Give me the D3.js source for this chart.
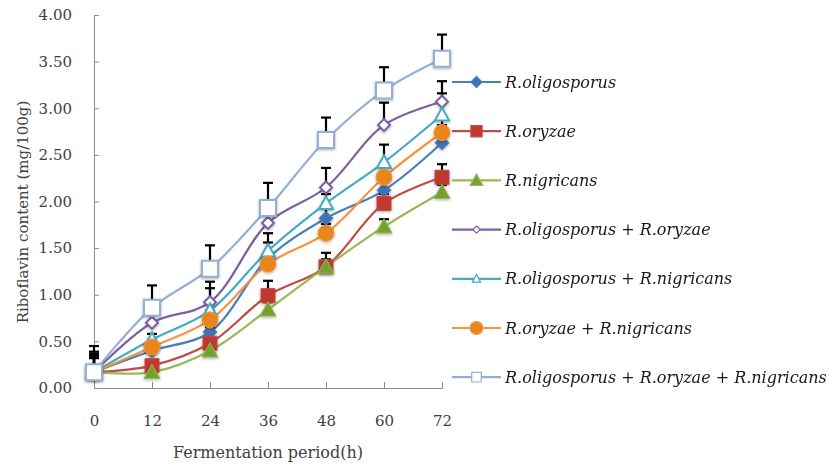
<!DOCTYPE html>
<meta charset="utf-8">
<style>
body { margin: 0; background: #fff; }
.tick text { font-family: "DejaVu Serif", serif; fill: #404040; }
.domain, .tick line { stroke: #8c8c8c; }
</style>
<svg width="834" height="468"></svg>
<script src="https://cdn.jsdelivr.net/npm/d3@7"></script>
<script>

var hours = [0, 12, 24, 36, 48, 60, 72];
var yTicks = ["0.00", "0.50", "1.00", "1.50", "2.00", "2.50", "3.00", "3.50", "4.00"];

// mean values per series
var oligo       = [0.17, 0.40, 0.60, 1.39, 1.82, 2.12, 2.63];
var oryzae      = [0.17, 0.24, 0.48, 0.99, 1.30, 1.98, 2.26];
var nigricans   = [0.17, 0.17, 0.40, 0.84, 1.30, 1.73, 2.10];
var oligoOryzae = [0.17, 0.70, 0.92, 1.77, 2.15, 2.82, 3.07];
var oligoNig    = [0.17, 0.52, 0.83, 1.47, 1.98, 2.42, 2.93];
var oryzaeNig   = [0.17, 0.44, 0.73, 1.33, 1.66, 2.26, 2.74];
var allThree    = [0.17, 0.86, 1.28, 1.93, 2.66, 3.19, 3.53];

// upper error (SD)
var errOligo       = [0.18, 0.05, 0.05, 0.17, 0.10, 0.10, 0.19];
var errOryzae      = [0.16, 0.05, 0.11, 0.16, 0.15, 0.10, 0.14];
var errNigricans   = [0.15, 0.04, 0.06, 0.08, 0.08, 0.08, 0.08];
var errOligoOryzae = [0.22, 0.08, 0.22, 0.12, 0.21, 0.24, 0.22];
var errOligoNig    = [0.20, 0.06, 0.24, 0.19, 0.10, 0.19, 0.23];
var errOryzaeNig   = [0.19, 0.06, 0.10, 0.10, 0.10, 0.10, 0.17];
var errAllThree    = [0.28, 0.24, 0.25, 0.27, 0.24, 0.25, 0.26];

var names = ["R.oligosporus", "R.oryzae", "R.nigricans",
  "R.oligosporus + R.oryzae", "R.oligosporus + R.nigricans",
  "R.oryzae + R.nigricans", "R.oligosporus + R.oryzae + R.nigricans"];

var series = [
  {name: names[0], values: oligo, err: errOligo, color: "#4a7ebb", fill: "#3f72b5", shape: "diamond", size: 7},
  {name: names[1], values: oryzae, err: errOryzae, color: "#be4b48", fill: "#c0392f", shape: "square", size: 7},
  {name: names[2], values: nigricans, err: errNigricans, color: "#98b954", fill: "#77a033", shape: "triangle", size: 8},
  {name: names[3], values: oligoOryzae, err: errOligoOryzae, color: "#7d60a0", fill: "#fff", shape: "diamond", size: 6},
  {name: names[4], values: oligoNig, err: errOligoNig, color: "#46aac5", fill: "#fff", shape: "triangle", size: 7},
  {name: names[5], values: oryzaeNig, err: errOryzaeNig, color: "#f69240", fill: "#e8861c", shape: "circle", size: 8},
  {name: names[6], values: allThree, err: errAllThree, color: "#93afd8", fill: "#fff", shape: "square", size: 8}
];

var svg = d3.select("svg");

var x = d3.scaleLinear().domain([0, 72]).range([94, 442]);
var y = d3.scaleLinear().domain([0, 4]).range([388, 15]);

var defs = svg.append("defs");
var glow = defs.append("filter").attr("id", "shadow").attr("x", "-50%").attr("y", "-50%").attr("width", "200%").attr("height", "200%");
glow.append("feDropShadow").attr("dx", 0).attr("dy", 1).attr("stdDeviation", 1.5).attr("flood-color", "#000").attr("flood-opacity", 0.35);

// axes
svg.append("g")
    .attr("transform", "translate(0,388)")
    .call(d3.axisBottom(x).tickValues(hours).tickSize(-6).tickPadding(27).tickFormat(d3.format("d")))
    .call(function(g) { g.selectAll("text").style("font-size", "15px"); });

svg.append("g")
    .attr("transform", "translate(94,0)")
    .call(d3.axisLeft(y).tickValues(yTicks.map(Number)).tickSize(-5).tickPadding(22).tickFormat(function(d, i) { return yTicks[i]; }))
    .call(function(g) { g.selectAll("text").style("font-size", "15px"); });

svg.append("text")
    .attr("x", 268).attr("y", 458)
    .attr("text-anchor", "middle")
    .style("font-family", "DejaVu Serif, serif").style("font-size", "16px").style("fill", "#404040")
    .text("Fermentation period(h)");

svg.append("text")
    .attr("transform", "translate(28,212) rotate(-90)")
    .attr("text-anchor", "middle")
    .style("font-family", "DejaVu Serif, serif").style("font-size", "15px").style("fill", "#404040")
    .text("Riboflavin content (mg/100g)");

var line = d3.line()
    .x(function(d, i) { return x(hours[i]); })
    .y(function(d) { return y(d); })
    .curve(d3.curveCatmullRom);

function symbolPath(shape, s) {
  if (shape == "diamond") return "M0," + (-s) + "L" + s + ",0L0," + s + "L" + (-s) + ",0Z";
  if (shape == "square") return "M" + (-s) + "," + (-s) + "h" + 2 * s + "v" + 2 * s + "h" + (-2 * s) + "Z";
  if (shape == "triangle") return "M0," + (-s) + "L" + s + "," + (0.8 * s) + "L" + (-s) + "," + (0.8 * s) + "Z";
  return d3.arc()({innerRadius: 0, outerRadius: s, startAngle: 0, endAngle: 2 * Math.PI});
}

// lines
series.forEach(function(s) {
  svg.append("path")
      .attr("d", line(s.values))
      .attr("fill", "none")
      .attr("stroke", s.color)
      .attr("stroke-width", 2.2);
});

// error bars
series.forEach(function(s) {
  var g = svg.append("g").attr("stroke", "#000").attr("stroke-width", 2.2);
  s.values.forEach(function(v, i) {
    var cx = x(hours[i]), top = y(v + s.err[i]);
    g.append("line").attr("x1", cx).attr("x2", cx).attr("y1", y(v)).attr("y2", top);
    g.append("line").attr("x1", cx - 5).attr("x2", cx + 5).attr("y1", top).attr("y2", top);
  });
});

// markers
series.forEach(function(s) {
  var g = svg.append("g").attr("filter", "url(#shadow)");
  s.values.forEach(function(v, i) {
    g.append("path")
        .attr("transform", "translate(" + x(hours[i]) + "," + y(v) + ")")
        .attr("d", symbolPath(s.shape, s.size))
        .attr("fill", s.fill)
        .attr("stroke", s.color)
        .attr("stroke-width", s.fill == "#fff" ? 2 : 1);
  });
});

// legend
var legend = svg.append("g");
series.forEach(function(s, i) {
  var ly = 82 + i * 49.2;
  legend.append("line").attr("x1", 452).attr("x2", 501).attr("y1", ly).attr("y2", ly)
      .attr("stroke", s.color).attr("stroke-width", 2.2);
  legend.append("path")
      .attr("transform", "translate(476.5," + ly + ")")
      .attr("d", symbolPath(s.shape, s.fill == "#fff" ? s.size * 0.6 : s.size * 0.8))
      .attr("fill", s.fill).attr("stroke", s.color).attr("stroke-width", 1.2);
  legend.append("text")
      .attr("x", 505).attr("y", ly + 5.5)
      .style("font-family", "DejaVu Serif, serif").style("font-style", "italic")
      .style("font-size", "16px").style("fill", "#1a1a1a")
      .text(s.name);
});

</script>
